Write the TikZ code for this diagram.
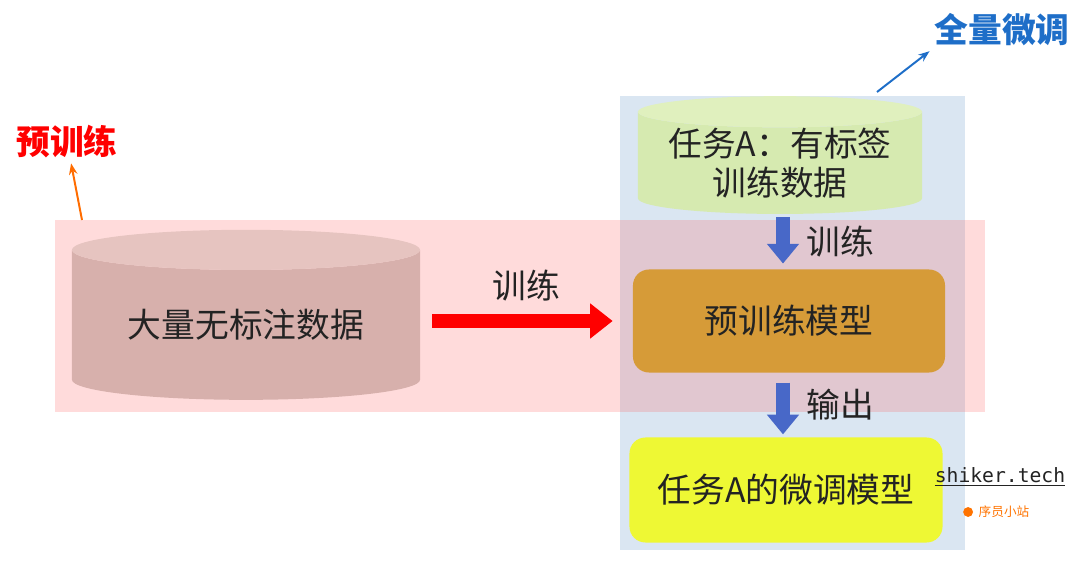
\documentclass[tikz,border=0pt]{standalone}
\usepackage{fontspec}
\setmainfont{Noto Sans CJK SC}
\setmonofont{DejaVu Sans Mono}
\usepackage{tikz}
\usetikzlibrary{shapes.geometric, positioning, arrows.meta}
\usepackage{xcolor}
\definecolor{panelblue}{RGB}{218,230,242}
\definecolor{cylpink}{RGB}{215,176,172}
\definecolor{cyltop}{RGB}{230,196,192}
\definecolor{cylgreen}{RGB}{214,234,176}
\definecolor{cylgreentop}{RGB}{224,240,190}
\definecolor{modelorange}{RGB}{214,155,56}
\definecolor{tuneyellow}{RGB}{238,248,52}
\definecolor{arrowblue}{RGB}{72,104,200}
\definecolor{labelblue}{RGB}{30,110,200}
\definecolor{txt}{RGB}{35,35,35}

\begin{document}
\begin{tikzpicture}[x=0.025cm, y=-0.025cm, font=\fontsize{24}{28}\selectfont, text=txt,
                    db/.style={cylinder, shape border rotate=90, cylinder uses custom fill, inner sep=0pt},
                    box/.style={rounded corners=0.4cm, inner sep=0pt},
                    fat/.style={line width=10pt, arrowblue, -{Triangle[length=14pt, width=22pt]}},
                    thin/.style={line width=1.4pt, -{Stealth[length=8pt]}},
                    lbl/.style={text=txt},
                    tag/.style={font=\fontsize{24}{28}\selectfont\bfseries}]

    \useasboundingbox (0,0) rectangle (1080,565);

    % panels
    \fill[panelblue] (620,96) rectangle (965,550);
    \fill[red!70, fill opacity=0.2] (55,220) rectangle (985,412);

    \node[db, cylinder body fill=cylpink, cylinder end fill=cyltop, aspect=0.17,
          minimum width=8.7cm, minimum height=4.25cm] (raw) at (246,325) {大量无标注数据};
    \node[db, cylinder body fill=cylgreen, cylinder end fill=cylgreentop, aspect=0.14,
          minimum width=7.1cm, minimum height=2.7cm, align=center] (task) at (780,163)
          {任务A：有标签\\训练数据};
    \node[box, fill=modelorange, minimum width=7.8cm, minimum height=2.575cm] (pm) at (789,321) {预训练模型};
    \node[box, fill=tuneyellow, minimum width=7.825cm, minimum height=2.625cm] (ft) at (786,490) {任务A的微调模型};

    \node[tag, text=red] (pre) at (67,142) {预训练};
    \node[tag, text=labelblue] (full) at (1002,30) {全量微调};
    \coordinate (bandtop) at (82,220);
    \coordinate (paneltop) at (877,92);

    \draw[line width=10pt, red, -{Triangle[length=16pt, width=24pt]}, shorten <=0.3cm, shorten >=0.5cm]
        (raw.east |- pm.west) -- node[lbl, above=0.2cm] {训练} (pm.west);
    \draw[fat, shorten <=2pt, shorten >=4pt] (task.south -| 783,0) -- node[lbl, right=0.3cm] {训练} (pm.north -| 783,0);
    \draw[fat, shorten <=7pt, shorten >=2pt] (pm.south -| 783,0) -- node[lbl, right=0.3cm] {输出} (ft.north -| 783,0);

    \draw[thin, orange!85!red] (bandtop) -- (pre);
    \draw[thin, labelblue] (paneltop) -- (full.south west);

    % site mark
    \node[font=\fontsize{14}{16}\selectfont\ttfamily] (site) at (1000,477) {\underline{shiker.tech}};
    \node[font=\fontsize{9}{10}\selectfont, text=orange!90!red] (siten) at (1004,512) {序员小站};
    \fill[orange!90!red] (siten.west) ++(-4pt,0) circle (3.5pt);
\end{tikzpicture}
\end{document}
